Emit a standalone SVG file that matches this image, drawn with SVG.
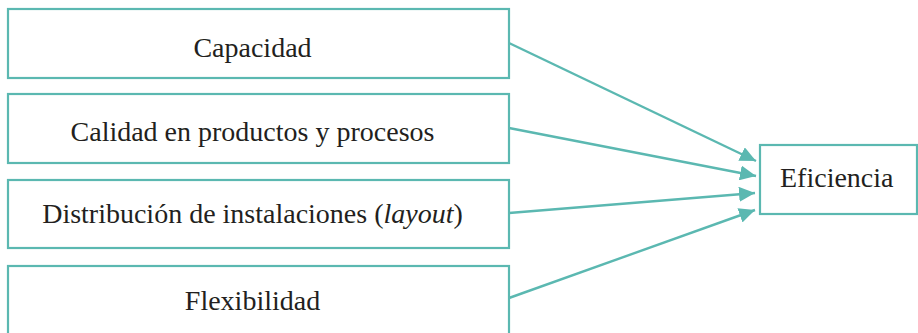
<svg xmlns="http://www.w3.org/2000/svg" width="918" height="333" viewBox="0 0 918 333">
<style>
.box{fill:#fff;stroke:#5bb8b1;stroke-width:2.2}
.lbl{font-size:28px;fill:#231f20}
.con{stroke:#5bb8b1;stroke-width:2.4;fill:none}
</style>
<defs>
<marker id="ah" markerUnits="userSpaceOnUse" markerWidth="17" markerHeight="15" refX="16" refY="7.5" orient="auto">
<path d="M0,0 L16,7.5 L0,15 z" fill="#5bb8b1"/>
</marker>
</defs>
<rect width="918" height="333" fill="#fff"/>
<g id="connectors">
<line class="con" x1="509" y1="43" x2="756" y2="161" marker-end="url(#ah)"/>
<line class="con" x1="509" y1="128" x2="756" y2="176" marker-end="url(#ah)"/>
<line class="con" x1="509" y1="213" x2="755" y2="193" marker-end="url(#ah)"/>
<line class="con" x1="509" y1="298" x2="755" y2="210" marker-end="url(#ah)"/>
</g>
<g font-family="'Liberation Serif', 'DejaVu Serif', serif">
<g id="capacidad">
<rect class="box" x="8" y="9" width="501" height="69"/>
<text class="lbl" x="252.5" y="56.5" text-anchor="middle">Capacidad</text>
</g>
<g id="calidad">
<rect class="box" x="8" y="94" width="501" height="69"/>
<text class="lbl" x="252.5" y="140.5" text-anchor="middle">Calidad en productos y procesos</text>
</g>
<g id="distribucion">
<rect class="box" x="8" y="180" width="501" height="68"/>
<text class="lbl" x="252.5" y="223" text-anchor="middle">Distribución de instalaciones (<tspan font-style="italic">layout</tspan>)</text>
</g>
<g id="flexibilidad">
<rect class="box" x="8" y="266" width="501" height="80"/>
<text class="lbl" x="252.5" y="310" text-anchor="middle">Flexibilidad</text>
</g>
<g id="eficiencia">
<rect class="box" x="760" y="145" width="157" height="69"/>
<text class="lbl" x="780" y="187" font-size="27">Eficiencia</text>
</g>
</g>
</svg>
